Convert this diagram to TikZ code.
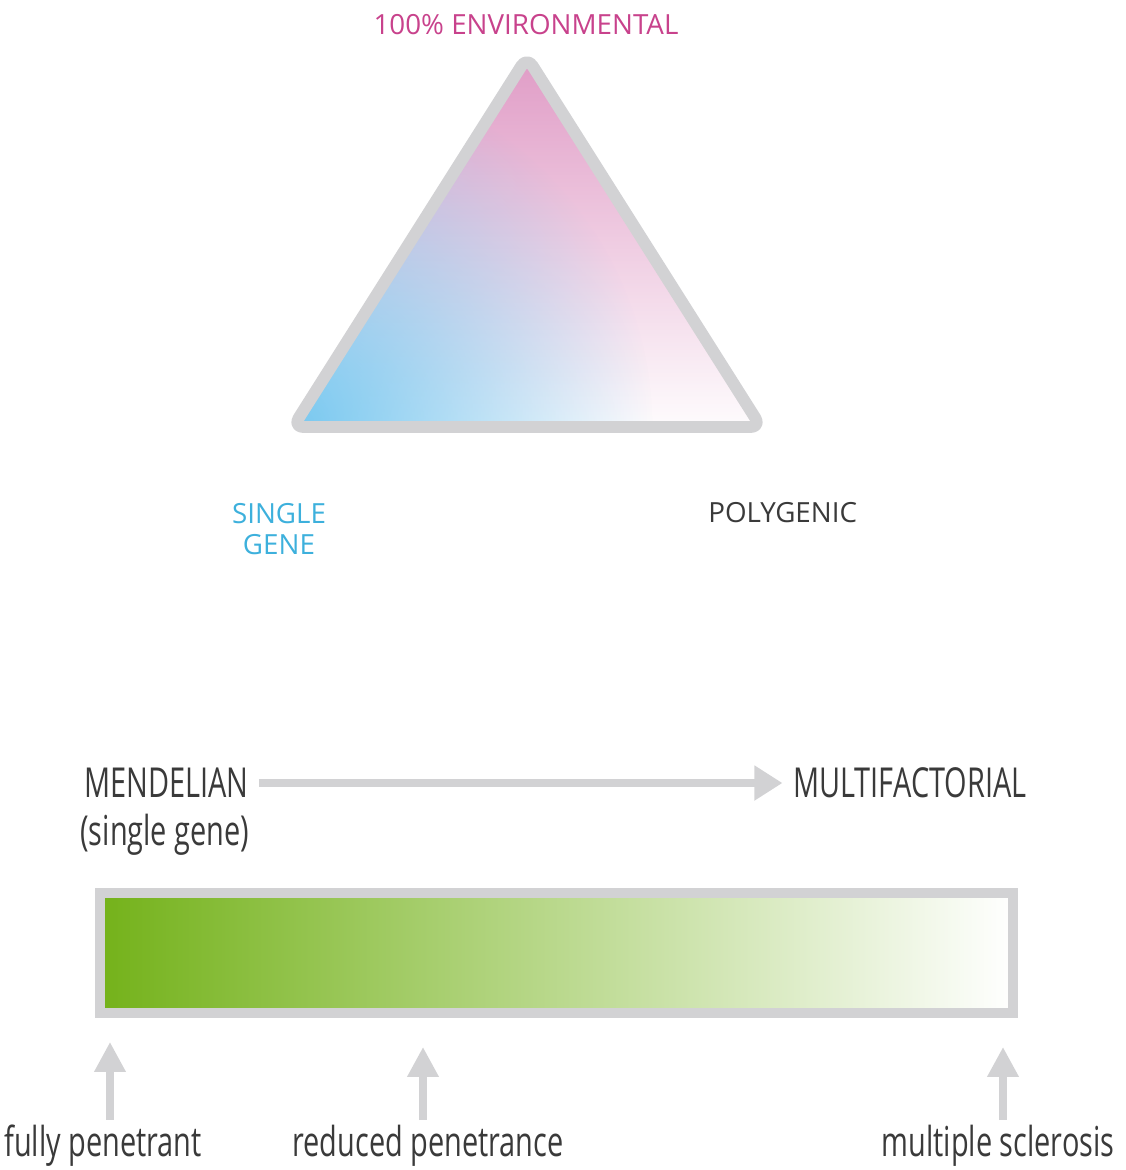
\documentclass[tikz,border=0pt]{standalone}
\usepackage{fontspec}
\setmainfont{Open Sans}
\newfontfamily\narrowfont[FakeStretch=0.7]{Open Sans}
\usetikzlibrary{arrows.meta, positioning, calc, fadings}
\definecolor{genegray}{HTML}{D2D2D4}
\definecolor{genepink}{HTML}{C8428C}
\definecolor{generose}{HTML}{E09CC6}
\definecolor{geneblue}{HTML}{3DB0DC}
\definecolor{genesky}{HTML}{78C8F0}
\definecolor{genedark}{HTML}{3A3A3A}
\definecolor{genegreen}{HTML}{74B21A}
\tikzfading[name=skyglow, inner color=transparent!0, outer color=transparent!100]

\begin{document}
\begin{tikzpicture}[
  x=0.02cm, y=-0.02cm,
  cornerlabel/.style={font=\fontsize{15.8}{18}\selectfont, align=center, inner sep=0pt},
  scalelabel/.style={font=\narrowfont\fontsize{23.5}{28}\selectfont, text=genedark, inner sep=0pt},
  pointer/.style={draw=genegray, line width=4pt, -{Triangle[length=17pt, width=17pt]}}
]
  \useasboundingbox (0,0) rectangle (1126,1170);

  \coordinate (top) at (527,57);
  \coordinate (left) at (293,427);
  \coordinate (right) at (761,427);

  \begin{scope}
    \clip (top) -- (left) -- (right) -- cycle;
    \shade[top color=generose, bottom color=white] (250,57) rectangle (800,440);
    \fill[genesky, path fading=skyglow] (left) circle (360);
  \end{scope}
  \draw[genegray, line width=6.8pt, line join=round, rounded corners=6pt]
    (top) -- (left) -- (right) -- cycle;

  \node[cornerlabel, text=genepink] (env) at (526,25) {100\% ENVIRONMENTAL};
  \node[cornerlabel, text=geneblue] (single) at (279,529) {SINGLE\\GENE};
  \node[cornerlabel, text=genedark, anchor=west] (poly) at (708,513) {POLYGENIC};

  \node[scalelabel, anchor=west] (mendel) at (84,783) {MENDELIAN};
  \node[scalelabel, anchor=west] (mendelsub) at (80,835) {(single gene)};
  \node[scalelabel, anchor=west] (multi) at (793,783) {MULTIFACTORIAL};
  \draw[draw=genegray, line width=4.5pt, -{Triangle[length=16pt, width=19pt]},
    shorten <=5.7pt, shorten >=6pt] (mendel.east) -- (multi.west);

  \shade[left color=genegreen, right color=white] (100,893) rectangle (1013,1013);
  \draw[genegray, line width=5.7pt] (100,893) rectangle (1013,1013);

  \node[scalelabel] (fully) at (103,1146) {fully penetrant};
  \node[scalelabel] (reduced) at (428,1146) {reduced penetrance};
  \node[scalelabel] (ms) at (998,1146) {multiple sclerosis};

  \coordinate (fullytip) at (110,1042);
  \coordinate (reducedtip) at (423,1047);
  \coordinate (mstip) at (1003,1047);
  \draw[pointer] (fully.north -| fullytip) ++(0,-5) -- (fullytip);
  \draw[pointer] (reduced.north -| reducedtip) ++(0,-5) -- (reducedtip);
  \draw[pointer] (ms.north -| mstip) ++(0,-5) -- (mstip);
\end{tikzpicture}
\end{document}
